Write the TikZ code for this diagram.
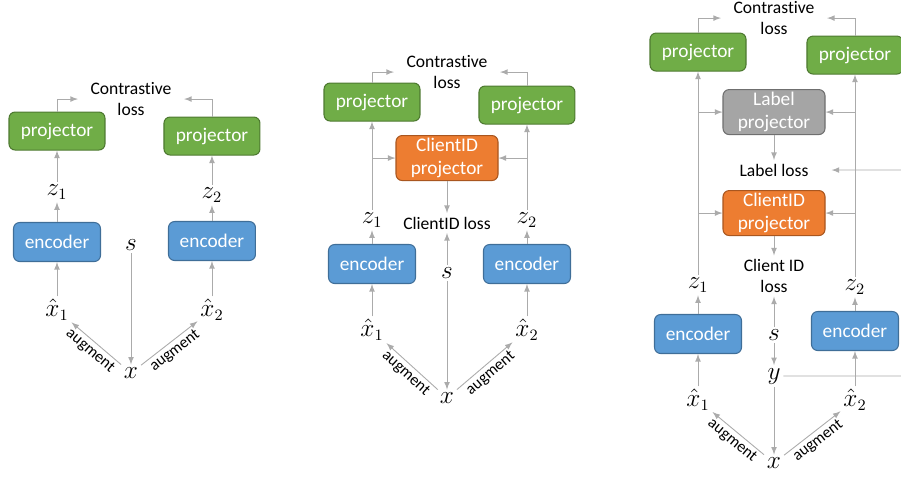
\documentclass[tikz,border=0pt]{standalone}
\usepackage{fontspec}
\setmainfont{Carlito}[Ligatures={NoCommon,NoRequired,NoContextual}]
\usepackage{amsmath}
\usepackage{xcolor}
\usetikzlibrary{arrows,positioning}

\definecolor{projgreen}{HTML}{70AD47}
\definecolor{projedge}{HTML}{4E7A31}
\definecolor{encblue}{HTML}{5B9BD5}
\definecolor{encedge}{HTML}{3F6E98}
\definecolor{cidorange}{HTML}{ED7D31}
\definecolor{cidedge}{HTML}{A9561F}
\definecolor{labgray}{HTML}{A5A5A5}
\definecolor{labedge}{HTML}{6F6F6F}
\definecolor{linkgray}{HTML}{ABABAB}

\newcommand{\boxfont}{\fontsize{11}{13.3}\selectfont}
\newcommand{\lossfont}{\fontsize{10}{12}\selectfont}
\newcommand{\augfont}{\fontsize{9.2}{10}\selectfont}
\newcommand{\varfont}{\fontsize{13.5}{15}\selectfont}

\tikzset{
  box/.style={draw, rounded corners=3.5pt, line width=0.6pt, text=white, inner sep=1pt, align=center, font=\boxfont},
  proj/.style={box, fill=projgreen, draw=projedge, minimum width=1.92cm, minimum height=0.76cm},
  enc/.style={box, fill=encblue, draw=encedge, minimum width=1.74cm, minimum height=0.78cm},
  cidproj/.style={box, fill=cidorange, draw=cidedge, minimum width=2.04cm, minimum height=0.9cm},
  labproj/.style={box, fill=labgray, draw=labedge, minimum width=2.04cm, minimum height=0.9cm},
  loss/.style={align=center, font=\lossfont},
  var/.style={font=\varfont, inner sep=1.5pt},
  aug/.style={font=\augfont, sloped, below, inner sep=1.5pt},
  link/.style={draw=linkgray, line width=0.5pt}
}

\begin{document}
\begin{tikzpicture}[->, >=latex, x=0.02cm, y=-0.02cm, node distance=1cm, inner sep=2pt,
  every edge/.style={link}]
\useasboundingbox (0,0) rectangle (901,476);
\clip (0,0) rectangle (901,476);
%
% left: contrastive
\node (xa) [var] at (131,373) {$x$};
\node (sa) [var, above of=xa, node distance=2.56cm] {$s$};
\node (clossa) [loss, above of=sa, node distance=2.92cm] {Contrastive\\loss};
\node (xh1a) [var] at (57,310) {$\hat{x}_1$};
\node (xh2a) [var, right of=xh1a, node distance=3.1cm] {$\hat{x}_2$};
\node (enc1a) [enc, above of=xh1a, node distance=1.36cm] {encoder};
\node (z1a) [var, above of=enc1a, node distance=1.0cm] {$z_1$};
\node (proj1a) [proj, above of=z1a, node distance=1.22cm] {projector};
\node (enc2a) [enc, above of=xh2a, node distance=1.38cm] {encoder};
\node (z2a) [var, above of=enc2a, node distance=0.92cm] {$z_2$};
\node (proj2a) [proj, above of=z2a, node distance=1.18cm] {projector};
%
\path (xa) edge node[aug] {augment} (xh1a)
      (xa) edge node[aug] {augment} (xh2a)
      (sa) edge (xa)
      (xh1a) edge (enc1a)
      (enc1a) edge (z1a)
      (z1a) edge (proj1a)
      (xh2a) edge (enc2a)
      (enc2a) edge (z2a)
      (z2a) edge (proj2a);
\draw[link, shorten >=5pt] (proj1a) |- (clossa);
\draw[link, shorten >=5pt] (proj2a) |- (clossa);
%
% middle: with client ID
\node (xb) [var] at (447,398) {$x$};
\node (sb) [var, above of=xb, node distance=2.5cm] {$s$};
\node (cidlossb) [loss, above of=sb, node distance=1.0cm] {ClientID loss};
\node (cidprojb) [cidproj, above of=cidlossb, node distance=1.3cm] {ClientID\\projector};
\node (clossb) [loss, above of=cidprojb, node distance=1.72cm] {Contrastive\\loss};
\node (xh1b) [var] at (372,330) {$\hat{x}_1$};
\node (xh2b) [var, right of=xh1b, node distance=3.1cm] {$\hat{x}_2$};
\node (enc1b) [enc, above of=xh1b, node distance=1.32cm] {encoder};
\node (z1b) [var, above of=enc1b, node distance=0.88cm] {$z_1$};
\node (proj1b) [proj, above of=z1b, node distance=2.36cm] {projector};
\node (enc2b) [enc, above of=xh2b, node distance=1.32cm] {encoder};
\node (z2b) [var, above of=enc2b, node distance=0.88cm] {$z_2$};
\node (proj2b) [proj, above of=z2b, node distance=2.3cm] {projector};
%
\path (xb) edge node[aug] {augment} (xh1b)
      (xb) edge node[aug] {augment} (xh2b)
      (sb) edge (xb)
      (sb) edge (cidlossb)
      (cidprojb) edge (cidlossb)
      (xh1b) edge (enc1b)
      (enc1b) edge (z1b)
      (z1b) edge (proj1b)
      (xh2b) edge (enc2b)
      (enc2b) edge (z2b)
      (z2b) edge (proj2b);
\draw[link] (z1b) |- (cidprojb);
\draw[link] (z2b) |- (cidprojb);
\draw[link, shorten >=5pt] (proj1b) |- (clossb);
\draw[link, shorten >=5pt] (proj2b) |- (clossb);
%
% right: with label and client ID
\node (xc) [var] at (774,463) {$x$};
\node (yc) [var, above of=xc, node distance=1.74cm] {$y$};
\node (sc) [var, above of=yc, node distance=0.82cm] {$s$};
\node (cidlossc) [loss, above of=sc, node distance=1.18cm] {Client ID\\loss};
\node (cidprojc) [cidproj, above of=cidlossc, node distance=1.26cm] {ClientID\\projector};
\node (lablossc) [loss, above of=cidprojc, node distance=0.86cm] {Label loss};
\node (labprojc) [labproj, above of=lablossc, node distance=1.16cm] {Label\\projector};
\node (clossc) [loss, above of=labprojc, node distance=1.88cm] {Contrastive\\loss};
\node (xh1c) [var] at (698,400) {$\hat{x}_1$};
\node (xh2c) [var, right of=xh1c, node distance=3.14cm] {$\hat{x}_2$};
\node (enc1c) [enc, above of=xh1c, node distance=1.32cm] {encoder};
\node (z1c) [var, above of=enc1c, node distance=0.98cm] {$z_1$};
\node (proj1c) [proj, above of=z1c, node distance=4.66cm] {projector};
\node (enc2c) [enc, above of=xh2c, node distance=1.38cm] {encoder};
\node (z2c) [var, above of=enc2c, node distance=0.88cm] {$z_2$};
\node (proj2c) [proj, above of=z2c, node distance=4.64cm] {projector};
\coordinate (yturnc) at (915,376);
%
\path (xh1c) edge (enc1c)
      (xc) edge node[aug] {augment} (xh1c)
      (xc) edge node[aug] {augment} (xh2c)
      (yc) edge (xc)
      (sc) edge (yc)
      (sc) edge (cidlossc)
      (cidprojc) edge (cidlossc)
      (labprojc) edge (lablossc)
      (enc1c) edge (z1c)
      (z1c) edge (proj1c)
      (xh2c) edge (enc2c)
      (enc2c) edge (z2c)
      (z2c) edge (proj2c);
\draw[link] (z1c) |- (labprojc);
\draw[link] (z1c) |- (cidprojc);
\draw[link] (z2c) |- (labprojc);
\draw[link] (z2c) |- (cidprojc);
\draw[link, shorten >=11pt] (yc) -- (yturnc) |- (lablossc);
\draw[link, shorten >=5pt] (proj1c) |- (clossc);
\draw[link, shorten >=5pt] (proj2c) |- (clossc);
\end{tikzpicture}
\end{document}
